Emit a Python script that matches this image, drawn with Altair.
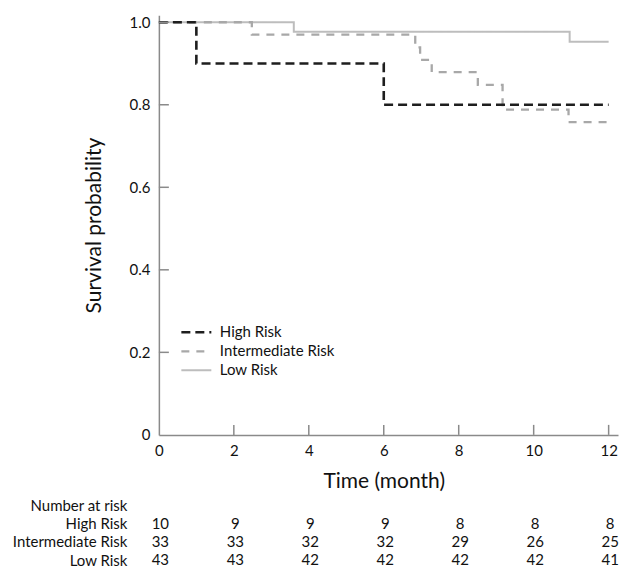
import altair as alt
import pandas as pd

# ---- data ----
groups = ["High Risk", "Intermediate Risk", "Low Risk"]

high_t = [0.0, 1.0, 6.0, 12.0]
high_s = [1.0, 0.9, 0.8, 0.8]
inter_t = [0.0, 2.48, 6.84, 6.97, 7.28, 8.51, 9.17, 10.93, 12.0]
inter_s = [1.0, 0.970, 0.939, 0.909, 0.879, 0.848, 0.788, 0.758, 0.758]
low_t = [0.0, 3.6, 10.96, 12.0]
low_s = [1.0, 0.977, 0.953, 0.953]

risk_times = [0, 2, 4, 6, 8, 10, 12]
risk_high = [10, 9, 9, 9, 8, 8, 8]
risk_inter = [33, 33, 32, 32, 29, 26, 25]
risk_low = [43, 43, 42, 42, 42, 42, 41]

x_ticks = [0, 2, 4, 6, 8, 10, 12]
y_ticks = [0, 0.2, 0.4, 0.6, 0.8, 1.0]
table_rows = ["Number at risk"] + groups

# ---- styles ----
colors = ["#1e1e1e", "#a8a8a8", "#bdbdbd"]
dashes = [[9, 5], [8, 7], [1, 0]]
widths = [2.6, 2.0, 2.0]
axis_color = "#8a8a8a"
text_color = "#111111"
W, H = 459.5, 420

# ---- tables ----
km_rows = []
for g, ts, ss in [("Low Risk", low_t, low_s),
                  ("Intermediate Risk", inter_t, inter_s),
                  ("High Risk", high_t, high_s)]:
    for t, s in zip(ts, ss):
        km_rows.append({"group": g, "time": t, "surv": s})
km = pd.DataFrame(km_rows)

risk_rows = []
for g, ns in zip(groups, [risk_high, risk_inter, risk_low]):
    for t, n in zip(risk_times, ns):
        risk_rows.append({"row": g, "time": t, "n": n})
risk = pd.DataFrame(risk_rows)

xs = alt.Scale(domain=[0, 12.25], nice=False, zero=False)
ys = alt.Scale(domain=[0, 1.017], nice=False)

x_axis = alt.Axis(values=x_ticks, ticks=False, grid=False, title="Time (month)",
                  labelPadding=9, titlePadding=11.5, titleX=225, labelFlush=False)
y_axis = alt.Axis(values=y_ticks, ticks=False, grid=False, title="Survival probability",
                  labelExpr="datum.value == 0 ? '0' : format(datum.value, '.1f')",
                  labelPadding=9, titlePadding=24)

lines = alt.Chart(km).mark_line(interpolate="step-after").encode(
    x=alt.X("time:Q", scale=xs, axis=x_axis),
    y=alt.Y("surv:Q", scale=ys, axis=y_axis),
    color=alt.Color("group:N", scale=alt.Scale(domain=groups, range=colors),
                    legend=alt.Legend(title=None, orient="none", legendX=21, legendY=308,
                                      symbolType="stroke", symbolSize=900, clipHeight=18.7,
                                      rowPadding=0, padding=0, labelOffset=7,
                                      labelFontSize=15, labelColor=text_color)),
    strokeDash=alt.StrokeDash("group:N", scale=alt.Scale(domain=groups, range=dashes)),
    strokeWidth=alt.StrokeWidth("group:N", scale=alt.Scale(domain=groups, range=widths)),
)

ytick = alt.Chart(pd.DataFrame({"surv": y_ticks[1:]})).mark_rule(
    color=axis_color, strokeWidth=1.5).encode(
    y=alt.Y("surv:Q", scale=ys, axis=y_axis), x=alt.value(0), x2=alt.value(10))

xtick = alt.Chart(pd.DataFrame({"time": x_ticks[1:]})).mark_rule(
    color=axis_color, strokeWidth=1.5).encode(
    x=alt.X("time:Q", scale=xs, axis=x_axis), y=alt.value(H - 10), y2=alt.value(H))

top = alt.layer(lines, ytick, xtick).properties(width=W, height=H)

table = alt.Chart(risk).mark_text(fontSize=15, dx=1.5, color=text_color).encode(
    x=alt.X("time:Q", scale=alt.Scale(domain=[0, 12.25], nice=False, zero=False), axis=None),
    y=alt.Y("row:N", scale=alt.Scale(type="point", domain=table_rows, padding=0),
            axis=alt.Axis(title=None, ticks=False, domain=False, labelAlign="right",
                          labelPadding=32, labelFontSize=15, labelColor=text_color)),
    text="n:Q",
).properties(width=W, height=55)

chart = alt.vconcat(top, table, spacing=5.5).properties(
    padding={"left": 3, "top": 6, "right": 2, "bottom": 0}
).configure(font="Lato").configure_view(stroke="transparent").configure_axis(
    domainColor=axis_color, domainWidth=1.5, labelFontSize=15, labelColor=text_color,
    titleFontSize=21, titleFontWeight="normal", titleColor=text_color,
)

chart.save("out.html", embed_options={"renderer": "svg", "actions": False})
